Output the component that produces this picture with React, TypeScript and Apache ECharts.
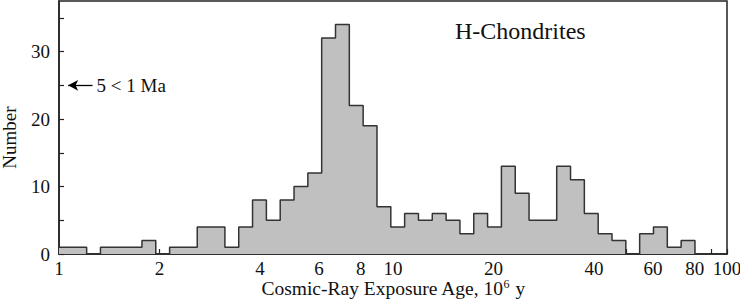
import React, { useEffect, useRef } from 'react';
import * as echarts from 'echarts';

// Lower bin edges (ratio 1.1 bins), the last value closes the final bin
const binEdges = [
  1, 1.1, 1.21, 1.331, 1.4641, 1.6105, 1.7716, 1.9487, 2.1436, 2.3579,
  2.5937, 2.8531, 3.1384, 3.4523, 3.7975, 4.1772, 4.595, 5.0545, 5.5599, 6.1159,
  6.7275, 7.4002, 8.1403, 8.9543, 9.8497, 10.835, 11.918, 13.11, 14.421, 15.863,
  17.449, 19.194, 21.114, 23.225, 25.548, 28.102, 30.913, 34.004, 37.404, 41.145,
  45.259, 49.785, 54.764, 60.24, 66.264, 72.89, 80.18,
];
// Number of meteorites per bin
const counts = [
  1, 1, 0, 1, 1, 1, 2, 0, 1, 1,
  4, 4, 1, 4, 8, 5, 8, 10, 12, 32,
  34, 22, 19, 7, 4, 6, 5, 6, 5, 3,
  6, 4, 13, 9, 5, 5, 13, 11, 6, 3,
  2, 0, 3, 4, 1, 2,
];
const xTickValues = [1, 2, 3, 4, 5, 6, 7, 8, 9, 10, 20, 30, 40, 50, 60, 70, 80, 90, 100];
const xLabelValues = [1, 2, 4, 6, 8, 10, 20, 40, 60, 80, 100];
const annotationY = 25;
const annotationX = [1.065, 1.26];

export default function App() {
  const ref = useRef<HTMLDivElement>(null);
  useEffect(() => {
    const chart = echarts.init(ref.current!, null, { renderer: 'svg' });
    const font = 'Liberation Serif';
    const ink = '#111';
    const histData = binEdges.map((e, i) => [e, i < counts.length ? counts[i] : 0]);
    chart.setOption({
      animation: false,
      backgroundColor: '#fff',
      title: {
        text: 'H-Chondrites',
        left: 455,
        top: 19,
        padding: 0,
        textStyle: { fontFamily: font, fontSize: 24, fontWeight: 'normal', color: ink },
      },
      grid: {
        left: 59,
        right: 13,
        top: 1,
        bottom: 47,
        containLabel: false,
        outerBoundsMode: 'none',
        show: true,
        borderColor: '#222',
        borderWidth: 1.5,
        backgroundColor: 'transparent',
      },
      xAxis: {
        type: 'log',
        logBase: 10,
        min: 1,
        max: 100,
        name: 'Cosmic-Ray Exposure Age, 10{sup|6} y',
        nameLocation: 'middle',
        nameGap: 24,
        nameMoveOverlap: false,
        nameTextStyle: {
          fontFamily: font,
          fontSize: 19.5,
          lineHeight: 20,
          color: ink,
          rich: {
            sup: { fontFamily: font, fontSize: 12, lineHeight: 12, color: ink, verticalAlign: 'top', padding: [0, 1, 0, 0] },
          },
        },
        axisLine: { show: true, lineStyle: { color: '#222', width: 1.5 } },
        axisTick: { show: true, inside: true, length: 5, customValues: xTickValues, lineStyle: { color: '#222', width: 1.2 } },
        axisLabel: {
          customValues: xLabelValues,
          fontFamily: font,
          fontSize: 19,
          color: ink,
          margin: 5,
          formatter: (v: number) => String(Math.round(v)),
        },
        splitLine: { show: false },
        minorTick: { show: false },
      },
      yAxis: {
        type: 'value',
        min: 0,
        max: 37.5,
        interval: 5,
        axisLine: { show: true, lineStyle: { color: '#222', width: 1.5 } },
        axisTick: { show: true, inside: true, length: 5, lineStyle: { color: '#222', width: 1.2 } },
        axisLabel: {
          fontFamily: font,
          fontSize: 19,
          color: ink,
          margin: 9,
          showMaxLabel: false,
          formatter: (v: number) => (v % 10 === 0 ? String(v) : ''),
        },
        splitLine: { show: false },
      },
      graphic: [
        {
          type: 'text',
          x: 9,
          y: 137.5,
          rotation: Math.PI / 2,
          style: {
            text: 'Number',
            fontFamily: font,
            fontSize: 19,
            fill: ink,
            align: 'center',
            verticalAlign: 'middle',
          },
        },
      ],
      series: [
        {
          type: 'line',
          data: histData,
          step: 'end',
          showSymbol: false,
          symbol: 'none',
          lineStyle: { color: '#333', width: 1.5 },
          areaStyle: { color: '#c0c0c0', opacity: 1 },
          z: 2,
          markLine: {
            silent: true,
            symbol: ['arrow', 'none'],
            symbolSize: [8, 10],
            lineStyle: { color: '#000', width: 1.3, type: 'solid' },
            label: {
              show: true,
              position: 'end',
              distance: 4,
              formatter: '5 < 1 Ma',
              fontFamily: font,
              fontSize: 19,
              color: ink,
            },
            data: [[{ coord: [annotationX[0], annotationY] }, { coord: [annotationX[1], annotationY] }]],
          },
        },
      ],
    });
    return () => chart.dispose();
  }, []);
  return <div ref={ref} style={{ position: 'fixed', left: 0, top: 0, width: 740, height: 301 }} />;
}
